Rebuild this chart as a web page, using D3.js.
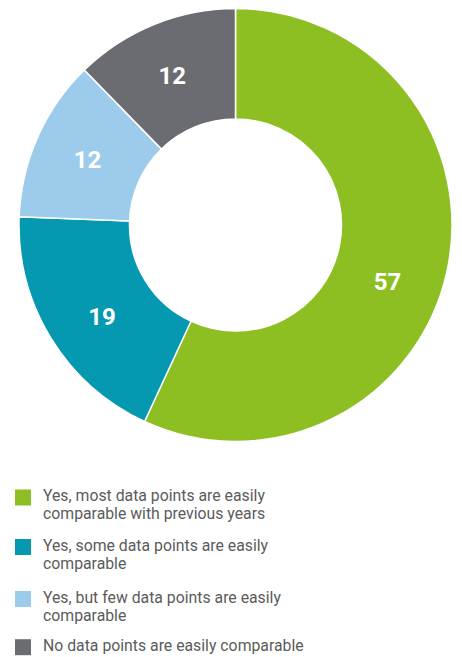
<!DOCTYPE html>
<html><head><meta charset="utf-8">
<script src="https://cdn.jsdelivr.net/npm/d3@7"></script>
<style>body{margin:0;background:#fff;}svg{display:block;}</style>
</head><body>
<script>
const categories = [
  "Yes, most data points are easily comparable with previous years",
  "Yes, some data points are easily comparable",
  "Yes, but few data points are easily comparable",
  "No data points are easily comparable"
];
const legendLines = [
  ["Yes, most data points are easily", "comparable with previous years"],
  ["Yes, some data points are easily", "comparable"],
  ["Yes, but few data points are easily", "comparable"],
  ["No data points are easily comparable"]
];
const values = [56.9, 18.7, 12.1, 12.3];
const labels = ["57", "19", "12", "12"];
const colors = ["#8dbe22", "#0499b0", "#9dcbec", "#6b6c72"];

const W = 462, H = 657;
const cx = 235.5, cy = 225, rOuter = 216.5, rInner = 106;
const labelAngleShift = [7.8, -3, 0, -0.8]; // degrees, layout tweak
const svg = d3.select("body").append("svg").attr("width", W).attr("height", H);

const pie = d3.pie().sort(null).value(d => d);
const arcs = pie(values);
const arc = d3.arc().innerRadius(rInner).outerRadius(rOuter);
const rLab = 162;

const g = svg.append("g").attr("transform", `translate(${cx},${cy})`);
g.selectAll("path").data(arcs).join("path")
  .attr("d", arc)
  .attr("fill", (d, i) => colors[i])
  .attr("stroke", "#fff").attr("stroke-width", 1.5);

g.selectAll("text").data(arcs).join("text")
  .attr("transform", (d, i) => {
    const a = (d.startAngle + d.endAngle) / 2 + labelAngleShift[i] * Math.PI / 180;
    return `translate(${rLab * Math.sin(a)},${-rLab * Math.cos(a)})`;
  })
  .attr("text-anchor", "middle").attr("dy", "0.36em")
  .attr("fill", "#fff").attr("font-family", "Roboto, 'Open Sans', sans-serif")
  .attr("font-weight", "bold").attr("font-size", 24)
  .text((d, i) => labels[i]);

const legendY = [497, 546.5, 598.5, 646.7];
const lg = svg.append("g");
legendLines.forEach((lines, i) => {
  lg.append("rect").attr("x", 15).attr("y", legendY[i] - 7.5).attr("width", 16).attr("height", 16).attr("fill", colors[i]);
  const t = lg.append("text").attr("x", 43).attr("y", legendY[i])
    .attr("font-family", "Roboto, sans-serif").attr("font-size", 15.8).attr("fill", "#5b5b5b");
  lines.forEach((l, j) => t.append("tspan").attr("x", 43).attr("dy", j === 0 ? "0.28em" : 17.7).text(l));
});
</script>
</body></html>
